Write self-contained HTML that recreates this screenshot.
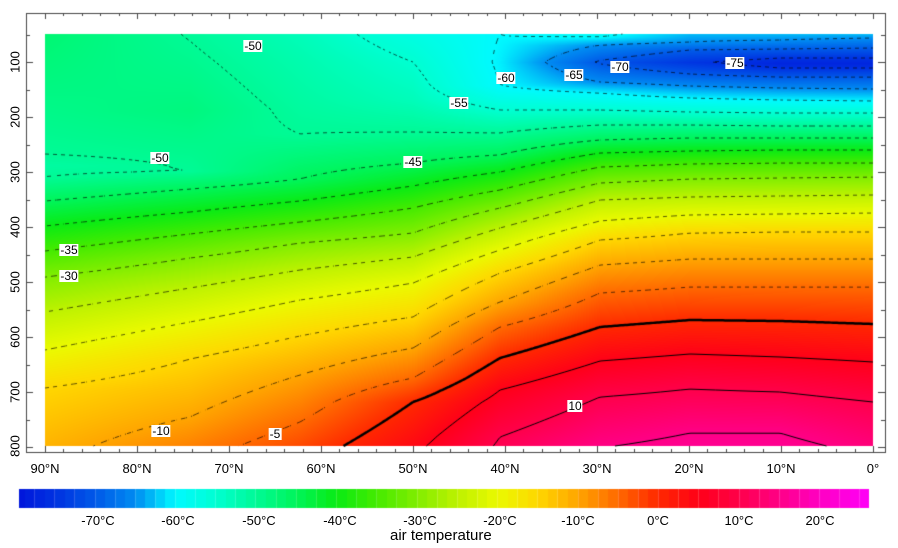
<!DOCTYPE html>
<html><head><meta charset="utf-8"><style>
html,body{margin:0;padding:0;background:#fff;}
body{width:898px;height:548px;position:relative;overflow:hidden;font-family:"Liberation Sans",sans-serif;}
canvas{position:absolute;left:0;top:0;}
.t{position:absolute;font-size:13px;color:#000;white-space:nowrap;}
.lb{position:absolute;background:#fff;font-size:12px;line-height:12px;padding:0 1px;transform:translate(-50%,-50%);}
.yl{position:absolute;font-size:13px;transform:translate(-50%,-50%) rotate(-90deg);}
.xl{position:absolute;font-size:13px;transform:translateX(-50%);top:461px;}
.cl{position:absolute;font-size:13px;transform:translateX(-50%);top:513px;}
</style></head><body>
<canvas id="c" width="898" height="548"></canvas>
<div class="lb" style="left:253px;top:46px">-50</div>
<div class="lb" style="left:506px;top:78px">-60</div>
<div class="lb" style="left:574px;top:75px">-65</div>
<div class="lb" style="left:620px;top:67px">-70</div>
<div class="lb" style="left:735px;top:63px">-75</div>
<div class="lb" style="left:459px;top:103px">-55</div>
<div class="lb" style="left:160px;top:158px">-50</div>
<div class="lb" style="left:413px;top:162px">-45</div>
<div class="lb" style="left:69px;top:250px">-35</div>
<div class="lb" style="left:69px;top:276px">-30</div>
<div class="lb" style="left:161px;top:431px">-10</div>
<div class="lb" style="left:275px;top:434px">-5</div>
<div class="lb" style="left:575px;top:406px">10</div>
<div class="yl" style="left:15px;top:62px">100</div>
<div class="yl" style="left:15px;top:117px">200</div>
<div class="yl" style="left:15px;top:172px">300</div>
<div class="yl" style="left:15px;top:227px">400</div>
<div class="yl" style="left:15px;top:282px">500</div>
<div class="yl" style="left:15px;top:337px">600</div>
<div class="yl" style="left:15px;top:392px">700</div>
<div class="yl" style="left:15px;top:446px">800</div>
<div class="xl" style="left:45px">90°N</div>
<div class="xl" style="left:137px">80°N</div>
<div class="xl" style="left:229px">70°N</div>
<div class="xl" style="left:321px">60°N</div>
<div class="xl" style="left:413px">50°N</div>
<div class="xl" style="left:505px">40°N</div>
<div class="xl" style="left:597px">30°N</div>
<div class="xl" style="left:689px">20°N</div>
<div class="xl" style="left:781px">10°N</div>
<div class="xl" style="left:873px">0°</div>
<div class="cl" style="left:98px">-70°C</div>
<div class="cl" style="left:178px">-60°C</div>
<div class="cl" style="left:259px">-50°C</div>
<div class="cl" style="left:340px">-40°C</div>
<div class="cl" style="left:420px">-30°C</div>
<div class="cl" style="left:500px">-20°C</div>
<div class="cl" style="left:578px">-10°C</div>
<div class="cl" style="left:658px">0°C</div>
<div class="cl" style="left:739px">10°C</div>
<div class="cl" style="left:820px">20°C</div>
<div class="t" style="left:390px;top:527px;font-size:15px">air temperature</div>
<script>
var cols=[
[45,[[34,-47],[154,-50],[165,-51],[177,-50],[201,-45],[226,-40],[251,-35],[277,-30],[312,-25],[350,-20],[388,-15],[446,-11.5]]],
[190,[[34,-50.2],[41,-50],[110,-48],[171,-50],[189,-45],[212,-40],[234,-35],[258,-30],[288,-25],[322,-20],[359,-15],[417,-10],[446,-7]]],
[300,[[34,-53],[62,-52],[100,-51],[134,-50],[179,-45],[201,-40],[222,-35],[243,-30],[270,-25],[300,-20],[336,-15],[375,-10],[422,-5],[446,-2.5]]],
[413,[[34,-57],[62,-55],[100,-53],[132,-50],[163,-45],[186,-40],[208,-35],[233,-30],[257,-25],[283,-20],[317,-15],[348,-10],[378,-5],[402,0],[446,4]]],
[500,[[34,-60],[62,-60.5],[85,-60],[110,-55],[133,-50],[155,-45],[172,-40],[190,-35],[208,-30],[228,-25],[250,-20],[273,-15],[302,-10],[327,-5],[358,0],[390,5],[437,10],[446,10.5]]],
[600,[[34,-59],[37,-60],[45,-65],[62,-70.5],[82,-65],[93,-60],[110,-55],[125,-50],[140,-45],[153,-40],[167,-35],[183,-30],[200,-25],[221,-20],[240,-15],[265,-10],[293,-5],[327,0],[361,5],[397,10],[446,14.8]]],
[690,[[34,-63],[42,-65],[50,-70],[62,-74.5],[74,-70],[86,-65],[98,-60],[112,-55],[125,-50],[138,-45],[151,-40],[164,-35],[179,-30],[197,-25],[215,-20],[233,-15],[259,-10],[287,-5],[320,0],[354,5],[389,10],[433,15],[446,16]]],
[780,[[34,-63],[40,-65],[49,-70],[58,-75],[63,-77],[68,-75],[77,-70],[88,-65],[100,-60],[113,-55],[126,-50],[138,-45],[150,-40],[163,-35],[178,-30],[196,-25],[214,-20],[232,-15],[259,-10],[287,-5],[321,0],[357,5],[392,10],[433,15],[446,16]]],
[873,[[34,-63],[38,-65],[48,-70],[58,-75],[63,-77],[68,-75],[77,-70],[89,-65],[101,-60],[113,-55],[126,-50],[138,-45],[150,-40],[163,-35],[177,-30],[195,-25],[213,-20],[232,-15],[259,-10],[287,-5],[324,0],[362,5],[402,10],[446,14]]]];
function colT(c,y){var p=c[1];if(y<=p[0][0])return p[0][1];for(var i=1;i<p.length;i++){if(y<=p[i][0]){var a=p[i-1],b=p[i];return a[1]+(b[1]-a[1])*(y-a[0])/(b[0]-a[0]);}}return p[p.length-1][1];}
function T(x,y){var i=0;while(i<cols.length-2&&x>cols[i+1][0])i++;var a=cols[i],b=cols[i+1];var f=(x-a[0])/(b[0]-a[0]);f=Math.max(0,Math.min(1,f));return colT(a,y)*(1-f)+colT(b,y)*f;}
var cm=[[-80,0,20,220],[-75,0,50,225],[-70,0,90,232],[-65,0,140,242],[-60,0,250,255],[-55,0,255,210],[-50,0,250,150],[-45,0,245,90],[-40,10,235,20],[-35,70,235,0],[-30,130,238,0],[-25,190,242,0],[-20,235,250,0],[-15,255,215,0],[-10,255,165,0],[-5,255,105,0],[0,255,40,0],[5,255,0,25],[10,255,0,75],[15,255,0,135],[20,255,0,195],[27,255,0,255]];
function col(t){if(t<=cm[0][0])return cm[0].slice(1);for(var i=1;i<cm.length;i++){if(t<=cm[i][0]){var a=cm[i-1],b=cm[i],f=(t-a[0])/(b[0]-a[0]);return [a[1]+(b[1]-a[1])*f,a[2]+(b[2]-a[2])*f,a[3]+(b[3]-a[3])*f];}}return cm[cm.length-1].slice(1);}
var cv=document.getElementById('c'),ctx=cv.getContext('2d');
var X0=45,Y0=34,W=828,H=412;
var img=ctx.createImageData(W,H);
for(var y=0;y<H;y++)for(var x=0;x<W;x++){var c=col(T(X0+x,Y0+y));var k=(y*W+x)*4;img.data[k]=c[0];img.data[k+1]=c[1];img.data[k+2]=c[2];img.data[k+3]=255;}
ctx.putImageData(img,X0,Y0);
var s=2,nx=Math.floor(W/s)+1,ny=Math.floor(H/s)+1,g=[];
for(var j=0;j<ny;j++){g[j]=[];for(var i=0;i<nx;i++)g[j][i]=T(X0+i*s,Y0+Math.min(j*s,H));}
for(var L=-75;L<=15;L+=5){
 ctx.beginPath();
 for(var j=0;j<ny-1;j++)for(var i=0;i<nx-1;i++){
  if(L<0&&(((i+j)/2|0)%2))continue;
  var v=[g[j][i],g[j][i+1],g[j+1][i+1],g[j+1][i]];
  var px=[[0,0],[1,0],[1,1],[0,1]],pts=[];
  for(var e=0;e<4;e++){var a=v[e],b=v[(e+1)%4];if((a<L)!=(b<L)){var f=(L-a)/(b-a);var p1=px[e],p2=px[(e+1)%4];pts.push([X0+(i+p1[0]+(p2[0]-p1[0])*f)*s,Y0+(j+p1[1]+(p2[1]-p1[1])*f)*s]);}}
  if(pts.length>=2){ctx.moveTo(pts[0][0],pts[0][1]);ctx.lineTo(pts[1][0],pts[1][1]);if(pts.length==4){ctx.moveTo(pts[2][0],pts[2][1]);ctx.lineTo(pts[3][0],pts[3][1]);}}
 }
 ctx.strokeStyle=L<0?'rgba(0,0,0,0.8)':'#000';ctx.lineWidth=L==0?2.5:(L<0?0.8:1);ctx.stroke();
}
ctx.strokeStyle='#444';ctx.lineWidth=1;ctx.strokeRect(26.5,13.5,859,439);
ctx.beginPath();
for(var d=0;d<=45;d++){var x=45+d*828/45;var l=(d%5==0)?6:3;x=Math.round(x)+0.5;ctx.moveTo(x,13);ctx.lineTo(x,13+l);ctx.moveTo(x,452);ctx.lineTo(x,452-l);}
for(var p=50;p<=800;p+=50){var y=Math.round(62+(p-100)*0.55)+0.5;var l=(p%100==0)?7:4;ctx.moveTo(26,y);ctx.lineTo(26+l,y);ctx.moveTo(885,y);ctx.lineTo(885-l,y);}
ctx.stroke();
for(var x=19;x<869;x++){var t=(x-658)/8.05;t=Math.floor(t/1.25)*1.25+0.6;var c=col(t);ctx.fillStyle='rgb('+(c[0]|0)+','+(c[1]|0)+','+(c[2]|0)+')';ctx.fillRect(x,489,1,19);}
ctx.strokeStyle='rgba(255,255,255,0.18)';ctx.beginPath();
for(var t=-80;t<=26;t+=2.5){var x=Math.round(658+t*8.05)+0.5;if(x>19&&x<869){ctx.moveTo(x,489);ctx.lineTo(x,508);}}
ctx.stroke();
</script>
</body></html>
